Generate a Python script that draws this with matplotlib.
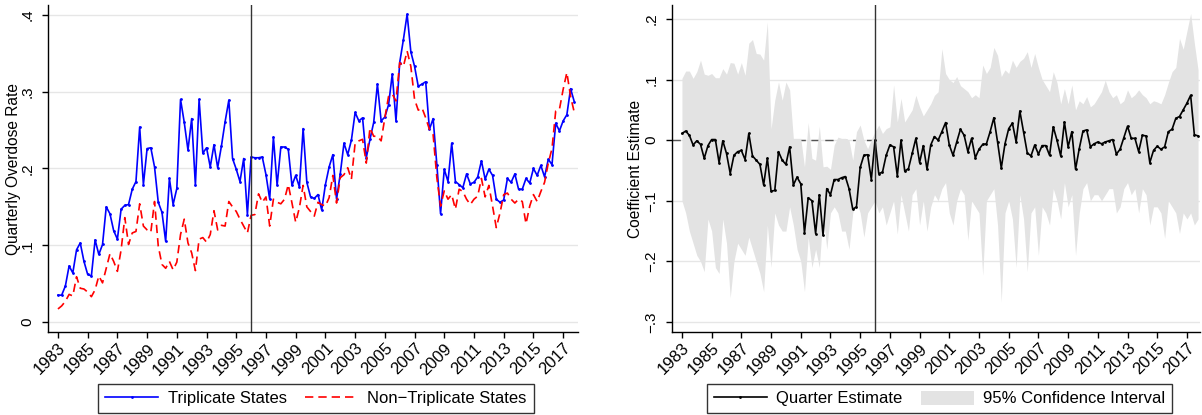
import numpy as np
import matplotlib
matplotlib.use("Agg")
import matplotlib.pyplot as plt
from matplotlib.ticker import FuncFormatter

plt.rcParams['font.family'] = ['Liberation Sans', 'DejaVu Sans']

# Quarterly time axis, 1983Q1 - 2017Q4
start_year = 1983
n_quarters = 140
policy_year = 1996.0

triplicate = [
    0.035, 0.035, 0.047, 0.073, 0.064, 0.094, 0.103, 0.079, 0.062, 0.060,
    0.107, 0.088, 0.101, 0.150, 0.141, 0.119, 0.108, 0.147, 0.152, 0.153,
    0.173, 0.183, 0.254, 0.179, 0.226, 0.227, 0.202, 0.156, 0.143, 0.105,
    0.187, 0.153, 0.174, 0.290, 0.260, 0.224, 0.265, 0.178, 0.290, 0.220,
    0.227, 0.202, 0.231, 0.201, 0.229, 0.261, 0.289, 0.213, 0.199, 0.183,
    0.213, 0.140, 0.215, 0.214, 0.214, 0.215, 0.192, 0.160, 0.241, 0.178,
    0.228, 0.228, 0.225, 0.178, 0.191, 0.176, 0.252, 0.182, 0.163, 0.161,
    0.166, 0.146, 0.179, 0.202, 0.218, 0.160, 0.193, 0.233, 0.218, 0.237,
    0.273, 0.262, 0.266, 0.214, 0.238, 0.260, 0.310, 0.262, 0.267, 0.283,
    0.323, 0.262, 0.338, 0.368, 0.401, 0.352, 0.333, 0.307, 0.310, 0.313,
    0.251, 0.265, 0.205, 0.141, 0.199, 0.183, 0.233, 0.183, 0.179, 0.175,
    0.193, 0.180, 0.182, 0.189, 0.210, 0.186, 0.199, 0.191, 0.160, 0.156,
    0.159, 0.187, 0.182, 0.193, 0.173, 0.173, 0.187, 0.181, 0.200, 0.191,
    0.204, 0.189, 0.212, 0.205, 0.259, 0.249, 0.262, 0.270, 0.304, 0.287,
]

non_triplicate = [
    0.017, 0.021, 0.027, 0.036, 0.034, 0.059, 0.044, 0.043, 0.039, 0.033,
    0.042, 0.060, 0.051, 0.070, 0.089, 0.079, 0.066, 0.094, 0.136, 0.101,
    0.116, 0.118, 0.154, 0.125, 0.120, 0.117, 0.157, 0.099, 0.075, 0.070,
    0.079, 0.068, 0.078, 0.114, 0.134, 0.103, 0.090, 0.067, 0.108, 0.110,
    0.104, 0.114, 0.145, 0.120, 0.126, 0.125, 0.157, 0.150, 0.144, 0.134,
    0.125, 0.116, 0.139, 0.140, 0.167, 0.156, 0.163, 0.125, 0.160, 0.156,
    0.154, 0.160, 0.179, 0.155, 0.130, 0.149, 0.178, 0.150, 0.144, 0.138,
    0.156, 0.153, 0.151, 0.162, 0.191, 0.155, 0.188, 0.192, 0.201, 0.186,
    0.233, 0.236, 0.238, 0.207, 0.253, 0.242, 0.242, 0.236, 0.266, 0.294,
    0.297, 0.288, 0.338, 0.333, 0.353, 0.333, 0.290, 0.276, 0.279, 0.266,
    0.251, 0.244, 0.188, 0.151, 0.171, 0.160, 0.166, 0.147, 0.173, 0.170,
    0.160, 0.153, 0.160, 0.164, 0.187, 0.163, 0.178, 0.151, 0.123, 0.142,
    0.166, 0.168, 0.160, 0.155, 0.160, 0.157, 0.128, 0.151, 0.166, 0.157,
    0.170, 0.182, 0.207, 0.226, 0.275, 0.277, 0.303, 0.325, 0.294, 0.273,
]

estimate = [
    0.011, 0.015, 0.008, -0.008, -0.001, -0.007, -0.030, -0.009, 0.001, 0.001,
    -0.037, -0.001, -0.022, -0.055, -0.025, -0.019, -0.017, -0.032, 0.011, -0.026,
    -0.033, -0.040, -0.074, -0.030, -0.084, -0.083, -0.019, -0.033, -0.040, -0.011,
    -0.074, -0.061, -0.072, -0.153, -0.095, -0.100, -0.154, -0.090, -0.157, -0.080,
    -0.090, -0.065, -0.065, -0.062, -0.060, -0.080, -0.114, -0.110, -0.045, -0.025,
    -0.024, -0.065, 0.000, -0.055, -0.053, -0.025, -0.008, -0.011, -0.059, 0.000,
    -0.051, -0.047, -0.022, 0.003, -0.037, -0.009, -0.048, -0.008, 0.006, 0.000,
    0.014, 0.029, -0.008, -0.025, -0.003, 0.018, 0.008, -0.019, 0.003, -0.029,
    -0.015, -0.007, -0.006, 0.014, 0.037, -0.003, -0.046, -0.006, 0.019, 0.028,
    -0.003, 0.048, 0.014, -0.021, -0.026, -0.008, -0.023, -0.009, -0.009, -0.025,
    0.022, 0.000, -0.026, 0.030, -0.011, 0.014, -0.048, -0.014, 0.015, 0.017,
    -0.011, -0.006, -0.003, -0.006, -0.003, -0.001, 0.001, -0.023, -0.015, 0.004,
    0.023, 0.003, 0.003, -0.019, 0.008, 0.007, -0.037, -0.017, -0.010, -0.015,
    -0.011, 0.014, 0.018, 0.036, 0.039, 0.050, 0.061, 0.074, 0.009, 0.007,
]

ci_upper = [
    0.102, 0.114, 0.114, 0.102, 0.113, 0.132, 0.109, 0.107, 0.110, 0.103,
    0.103, 0.118, 0.109, 0.128, 0.127, 0.109, 0.128, 0.107, 0.160, 0.166,
    0.143, 0.142, 0.132, 0.195, 0.019, 0.066, 0.096, 0.066, 0.096, 0.083,
    0.003, 0.003, 0.003, -0.044, 0.029, -0.030, -0.033, 0.023, -0.044, -0.043,
    -0.048, -0.008, 0.005, 0.003, 0.003, 0.000, -0.033, 0.014, 0.025, 0.000,
    -0.014, 0.001, 0.014, 0.025, 0.011, 0.019, 0.022, 0.091, 0.030, 0.069,
    0.030, 0.040, 0.050, 0.074, 0.055, 0.040, 0.050, 0.060, 0.074, 0.080,
    0.151, 0.110, 0.100, 0.095, 0.105, 0.090, 0.085, 0.080, 0.070, 0.075,
    0.070, 0.124, 0.110, 0.120, 0.153, 0.140, 0.105, 0.116, 0.110, 0.132,
    0.120, 0.130, 0.135, 0.146, 0.120, 0.143, 0.120, 0.100, 0.090, 0.080,
    0.113, 0.095, 0.060, 0.085, 0.060, 0.091, 0.050, 0.065, 0.060, 0.072,
    0.055, 0.060, 0.070, 0.080, 0.099, 0.080, 0.070, 0.075, 0.060, 0.065,
    0.083, 0.070, 0.075, 0.083, 0.075, 0.070, 0.060, 0.065, 0.063, 0.060,
    0.075, 0.095, 0.113, 0.120, 0.168, 0.150, 0.180, 0.209, 0.160, 0.116,
]

ci_lower = [
    -0.100, -0.120, -0.150, -0.170, -0.190, -0.200, -0.217, -0.130, -0.150, -0.210,
    -0.220, -0.130, -0.170, -0.260, -0.200, -0.170, -0.180, -0.190, -0.160, -0.180,
    -0.200, -0.220, -0.250, -0.140, -0.210, -0.120, -0.140, -0.150, -0.150, -0.110,
    -0.140, -0.180, -0.200, -0.250, -0.160, -0.210, -0.180, -0.210, -0.120, -0.180,
    -0.120, -0.110, -0.120, -0.150, -0.150, -0.180, -0.120, -0.100, -0.120, -0.160,
    -0.120, -0.110, -0.100, -0.120, -0.110, -0.140, -0.120, -0.100, -0.155, -0.090,
    -0.120, -0.150, -0.090, -0.080, -0.140, -0.100, -0.150, -0.110, -0.090, -0.100,
    -0.080, -0.070, -0.120, -0.140, -0.100, -0.080, -0.090, -0.165, -0.100, -0.110,
    -0.120, -0.223, -0.100, -0.090, -0.080, -0.140, -0.267, -0.120, -0.100, -0.130,
    -0.210, -0.090, -0.130, -0.217, -0.120, -0.110, -0.190, -0.110, -0.120, -0.140,
    -0.080, -0.100, -0.130, -0.070, -0.110, -0.090, -0.190, -0.120, -0.080, -0.070,
    -0.100, -0.090, -0.090, -0.100, -0.090, -0.080, -0.080, -0.120, -0.110, -0.080,
    -0.070, -0.090, -0.080, -0.120, -0.080, -0.090, -0.140, -0.110, -0.110, -0.120,
    -0.162, -0.100, -0.110, -0.120, -0.154, -0.120, -0.130, -0.120, -0.140, -0.130,
]

year_ticks = list(range(1983, 2018, 2))
left_yticks = [0, 0.1, 0.2, 0.3, 0.4]
right_yticks = [-0.3, -0.2, -0.1, 0, 0.1, 0.2]

t = start_year + np.arange(n_quarters) / 4.0

W, H = 1202, 415
fig = plt.figure(figsize=(W / 100, H / 100), dpi=100)


def px_axes(x0, x1, y0, y1):
    return fig.add_axes([x0 / W, 1 - y1 / H, (x1 - x0) / W, (y1 - y0) / H])


def stata_fmt(v, pos):
    if abs(v) < 1e-9:
        return '0'
    s = '%.1f' % v
    s = s.replace('0.', '.')
    return s.replace('-', '\u2212')


def style_axes(ax, yticks, ylabel, label_x):
    for side in ('top', 'right'):
        ax.spines[side].set_visible(False)
    for side in ('left', 'bottom'):
        ax.spines[side].set_linewidth(1.0)
        ax.spines[side].set_color('black')
    ax.set_xticks(year_ticks)
    ax.set_xticklabels([str(y) for y in year_ticks], rotation=45,
                       ha='right', rotation_mode='anchor', fontsize=12)
    ax.set_yticks(yticks)
    ax.yaxis.set_major_formatter(FuncFormatter(stata_fmt))
    for lab in ax.get_yticklabels():
        lab.set_rotation(90)
        lab.set_va('center')
    ax.tick_params(axis='y', labelsize=11, length=4.3, width=1, pad=5.5)
    ax.tick_params(axis='x', length=4.3, width=1, pad=2)
    ax.yaxis.grid(True, color='#e6e6e6', linewidth=1.0)
    ax.set_axisbelow(True)
    ax.set_ylabel(ylabel, fontsize=11.2)
    ax.yaxis.set_label_coords(label_x, 0.5)


legend_style = dict(ncol=2, loc='center', frameon=True, fancybox=False,
                    edgecolor='black', fontsize=12, handlelength=3.2,
                    handletextpad=0.55, columnspacing=1.1, borderpad=0.42,
                    handleheight=0.9)

# Left panel: overdose rates
ax1 = px_axes(48, 578, 5, 332)
ax1.set_xlim(1982.33, 2018.0)
ax1.set_ylim(-0.013, 0.413)
l1, = ax1.plot(t, triplicate, color='#0000ff', lw=1.2, marker='.', ms=2,
               label='Triplicate States', zorder=3)
l2, = ax1.plot(t, non_triplicate, color='#ff0000', lw=1.2, ls=(0, (5, 3)),
               label='Non\u2212Triplicate States', zorder=3)
ax1.axvline(policy_year, color='#333333', lw=1.0, zorder=4)
style_axes(ax1, left_yticks, 'Quarterly Overdose Rate', (21 - 48) / 530)

leg1 = ax1.legend(handles=[l1, l2], bbox_to_anchor=(316 / W, 1 - 398.5 / H),
                  bbox_transform=fig.transFigure, **legend_style)
leg1.get_frame().set_linewidth(1.0)

# Right panel: quarterly coefficient estimates
ax2 = px_axes(672, 1200, 5, 332)
ax2.set_xlim(1982.33, 2017.88)
ax2.set_ylim(-0.3165, 0.223)
ax2.axhline(0, color='#555555', lw=1.0, ls=(0, (6, 4)), zorder=1)
ci = ax2.fill_between(t, ci_lower, ci_upper, color='#e3e3e3', lw=0,
                      label='95% Confidence Interval', zorder=2)
l3, = ax2.plot(t, estimate, color='black', lw=1.2, marker='.', ms=2,
               label='Quarter Estimate', zorder=3)
ax2.axvline(policy_year, color='#333333', lw=1.0, zorder=4)
style_axes(ax2, right_yticks, 'Coefficient Estimate', (643 - 672) / 528)

leg2 = ax2.legend(handles=[l3, ci], bbox_to_anchor=(939.5 / W, 1 - 398.5 / H),
                  bbox_transform=fig.transFigure, **legend_style)
leg2.get_frame().set_linewidth(1.0)

fig.savefig('out.png', dpi=100)
